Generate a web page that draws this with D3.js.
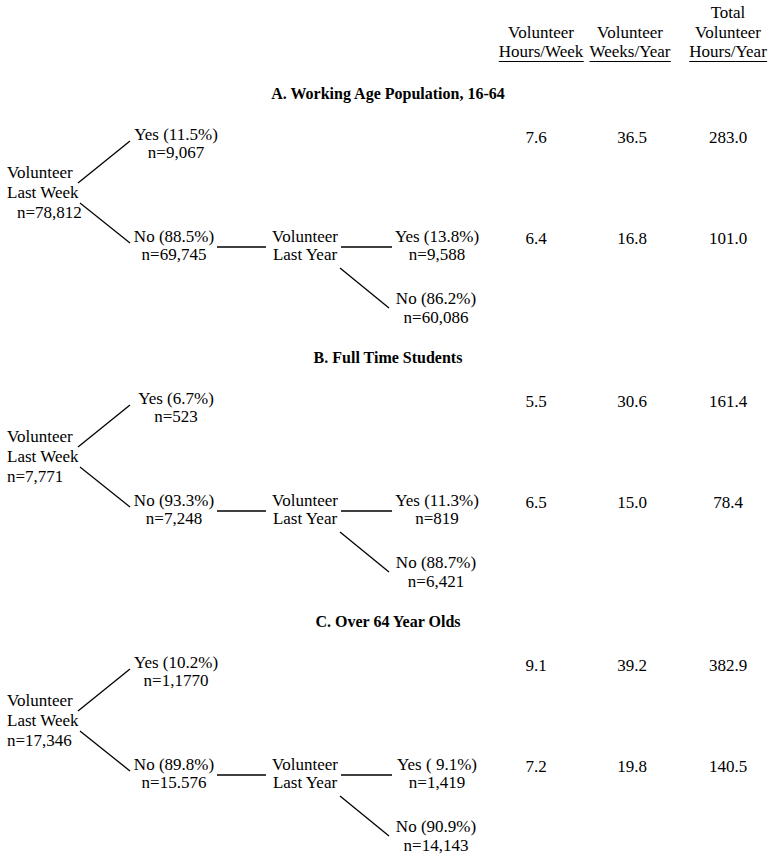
<!doctype html>
<html lang="en">
    <head>
        <meta charset="utf-8">
        <style>
        body, html{
            margin:0;
            padding:0;
            background:white;
            overflow:hidden;
        }
        </style>
    </head>
    <body>
        <div id="chart"></div>
        <script src="https://d3js.org/d3.v7.min.js"></script>
        <script>

// --- data ---
const sections = ["A. Working Age Population, 16-64", "B. Full Time Students", "C. Over 64 Year Olds"];
const totalN = ["n=78,812", "n=7,771", "n=17,346"];
const lastWeekYes = ["Yes (11.5%)", "Yes (6.7%)", "Yes (10.2%)"];
const lastWeekYesN = ["n=9,067", "n=523", "n=1,1770"];
const lastWeekNo = ["No (88.5%)", "No (93.3%)", "No (89.8%)"];
const lastWeekNoN = ["n=69,745", "n=7,248", "n=15.576"];
const lastYearYes = ["Yes (13.8%)", "Yes (11.3%)", "Yes ( 9.1%)"];
const lastYearYesN = ["n=9,588", "n=819", "n=1,419"];
const lastYearNo = ["No (86.2%)", "No (88.7%)", "No (90.9%)"];
const lastYearNoN = ["n=60,086", "n=6,421", "n=14,143"];

const columns = ["hoursWeek", "weeksYear", "hoursYear"];
const columnHeads = [["Volunteer", "Hours/Week"], ["Volunteer", "Weeks/Year"], ["Total", "Volunteer", "Hours/Year"]];
// [last week volunteers, last year only volunteers]
const hoursWeek = [[7.6, 6.4], [5.5, 6.5], [9.1, 7.2]];
const weeksYear = [[36.5, 16.8], [30.6, 15.0], [39.2, 19.8]];
const hoursYear = [[283.0, 101.0], [161.4, 78.4], [382.9, 140.5]];

const width = 771, height = 856;
const font = '"Liberation Serif", "Times New Roman", Times, serif';

const svg = d3.select("#chart").append("svg")
    .attr("width", width)
    .attr("height", height)
    .style("font-family", font)
    .style("font-size", "17px");

const sectionY = d3.scaleBand().domain(sections).range([0, 792]);
const colX = d3.scalePoint().domain(columns).range([536, 728]);
const colData = {hoursWeek: hoursWeek, weeksYear: weeksYear, hoursYear: hoursYear};

const addText = (sel, x, y, t, anchor) => sel.append("text")
    .attr("x", x).attr("y", y)
    .attr("text-anchor", anchor || "middle")
    .style("font-family", font)
    .style("font-size", "17px")
    .style("fill", "black")
    .text(t);

// column headers, last line underlined
columns.forEach((c, ci) => {
    const lines = columnHeads[ci];
    const g = svg.append("g");
    lines.forEach((t, li) => {
        const y = 57 - (lines.length - 1 - li) * 19.5;
        const txt = addText(g, colX(c) + (ci === 0 ? 5 : ci === 1 ? -2 : 0), y, t);
        if (li === lines.length - 1) {
            const bb = txt.node().getBBox();
            g.append("line")
                .attr("x1", bb.x).attr("x2", bb.x + bb.width)
                .attr("y1", 61.5).attr("y2", 61.5)
                .style("stroke", "black")
                .style("stroke-width", "1px");
        }
    });
});

const fmt = d3.format(".1f");

sections.forEach((s, i) => {
    const g = svg.append("g")
        .attr("transform", `translate(0,${sectionY(s)})`);

    addText(g, 388, 99, s)
        .style("font-weight", "bold")
        .style("font-size", "16px");

    // root node
    const rootLines = ["Volunteer", "Last Week", totalN[i]];
    rootLines.forEach((t, li) => {
        addText(g, (li === 2 && i === 0) ? 17 : 7, 178 + li * 20, t, "start");
    });

    const node = (lines, x, y, dy) => {
        lines.forEach((t, li) => addText(g, x, y + li * dy, t));
    };

    node([lastWeekYes[i], lastWeekYesN[i]], 176, 140, 18);
    node([lastWeekNo[i], lastWeekNoN[i]], 174, 242, 18);
    node(["Volunteer", "Last Year"], 305, 242, 18);
    node([lastYearYes[i], lastYearYesN[i]], 437, 242, 18);
    node([lastYearNo[i], lastYearNoN[i]], 436, 304, 19);

    const links = [
        [78, 183, 130, 141],
        [80, 203, 130, 243],
        [217, 247, 266, 247],
        [341, 247, 392, 247],
        [340, 268, 389, 308]
    ];
    g.selectAll("line").data(links).enter().append("line")
        .attr("x1", (d) => d[0])
        .attr("y1", (d) => d[1])
        .attr("x2", (d) => d[2])
        .attr("y2", (d) => d[3])
        .style("stroke", "black")
        .style("stroke-width", "1.3px");

    // values on the right
    columns.forEach((c) => {
        colData[c][i].forEach((v, ri) => {
            addText(g, colX(c), ri === 0 ? 143 : 244, fmt(v));
        });
    });
});

        </script>
    </body>
</html>
